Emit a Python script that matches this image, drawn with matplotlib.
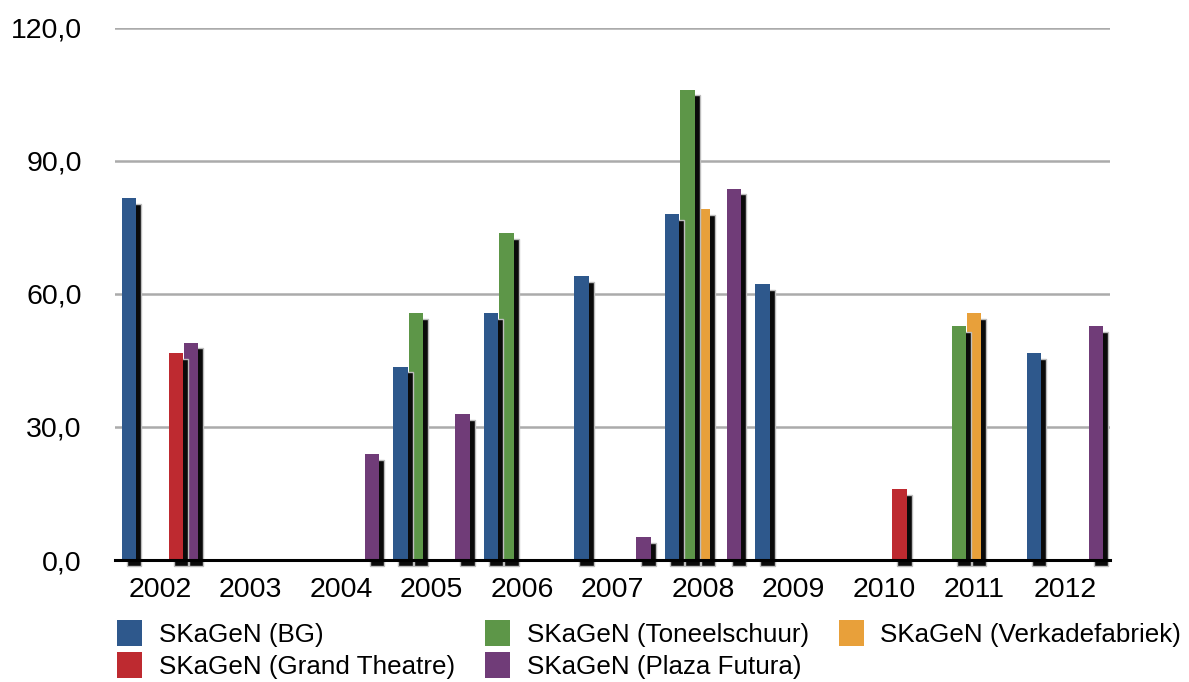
import numpy as np
import matplotlib
matplotlib.use("Agg")
import matplotlib.pyplot as plt
import matplotlib.patheffects as pe
from matplotlib.ticker import FuncFormatter

plt.rcParams["font.family"] = ["Liberation Sans", "DejaVu Sans"]

years = [2002, 2003, 2004, 2005, 2006, 2007, 2008, 2009, 2010, 2011, 2012]
nan = np.nan

# one value per year, nan where there was no measurement
bg = [81.5, nan, nan, 43.6, 55.6, 63.9, 77.9, 62.1, nan, nan, 46.6]
toneelschuur = [nan, nan, nan, 55.6, 73.6, nan, 106.0, nan, nan, 52.7, nan]
verkadefabriek = [nan, nan, nan, nan, nan, nan, 79.0, nan, nan, 55.6, nan]
grand_theatre = [46.6, nan, nan, nan, nan, nan, nan, nan, 16.0, nan, nan]
plaza_futura = [49.0, nan, 23.8, 32.9, nan, 5.2, 83.7, nan, nan, nan, 52.7]

series = [
    ("SKaGeN (BG)", bg, "#2E588C"),
    ("SKaGeN (Toneelschuur)", toneelschuur, "#5D9648"),
    ("SKaGeN (Verkadefabriek)", verkadefabriek, "#E8A03A"),
    ("SKaGeN (Grand Theatre)", grand_theatre, "#BE2A30"),
    ("SKaGeN (Plaza Futura)", plaza_futura, "#703C78"),
]

fig = plt.figure(figsize=(11.89, 6.82), dpi=100)
W, H = 1189, 682
ax = fig.add_axes([115 / W, (H - 560) / H, 995 / W, (560 - 27.5) / H])

x = np.arange(len(years))
slot = 0.1714
width = 0.158

shadow = [
    pe.SimplePatchShadow(offset=(3.6, -4.2), shadow_rgbFace="#0a0a0a", alpha=1.0,
                         linewidth=1.0, foreground="#bdbdbd"),
    pe.Normal(),
]

handles = {}
for k, (label, vals, color) in enumerate(series):
    vals = np.array(vals, dtype=float)
    mask = ~np.isnan(vals)
    bars = ax.bar(x[mask] + (k - 2) * slot, vals[mask], width=width, color=color,
                  linewidth=0, label=label, zorder=2.0 - 0.1 * k, clip_on=False)
    for b in bars:
        b.set_path_effects(shadow)
    handles[label] = bars

ax.set_xlim(-0.5, len(years) - 0.5)
ax.set_ylim(0, 120)
ax.set_yticks([0, 30, 60, 90, 120])
ax.yaxis.set_major_formatter(FuncFormatter(lambda v, _: f"{v:.1f}".replace(".", ",")))
ax.set_xticks(x)
ax.set_xticklabels([str(y) for y in years])
ax.tick_params(axis="both", length=0, labelsize=20.5, colors="black")
ax.tick_params(axis="y", pad=24)
ax.tick_params(axis="x", pad=12.5)

ax.set_axisbelow(True)
ax.yaxis.grid(True, color="#ababab", linewidth=1.8)
for side in ["left", "right", "top"]:
    ax.spines[side].set_visible(False)
ax.spines["bottom"].set_linewidth(2.2)
ax.spines["bottom"].set_color("black")
ax.spines["bottom"].set_zorder(3)

# legend fills column-wise: BG/Grand, Toneel/Plaza, Verkade
order = ["SKaGeN (BG)", "SKaGeN (Grand Theatre)", "SKaGeN (Toneelschuur)",
         "SKaGeN (Plaza Futura)", "SKaGeN (Verkadefabriek)"]
leg = fig.legend([handles[o] for o in order], order, ncol=3, frameon=False,
                 loc="upper left", bbox_to_anchor=(117 / W, (H - 620) / H),
                 fontsize=18.7, handlelength=0.96, handleheight=1.16,
                 handletextpad=0.65, columnspacing=1.15, labelspacing=0.2,
                 borderpad=0, borderaxespad=0)
for h in leg.legend_handles:
    h.set_path_effects([])

fig.savefig("out.png", dpi=100)
